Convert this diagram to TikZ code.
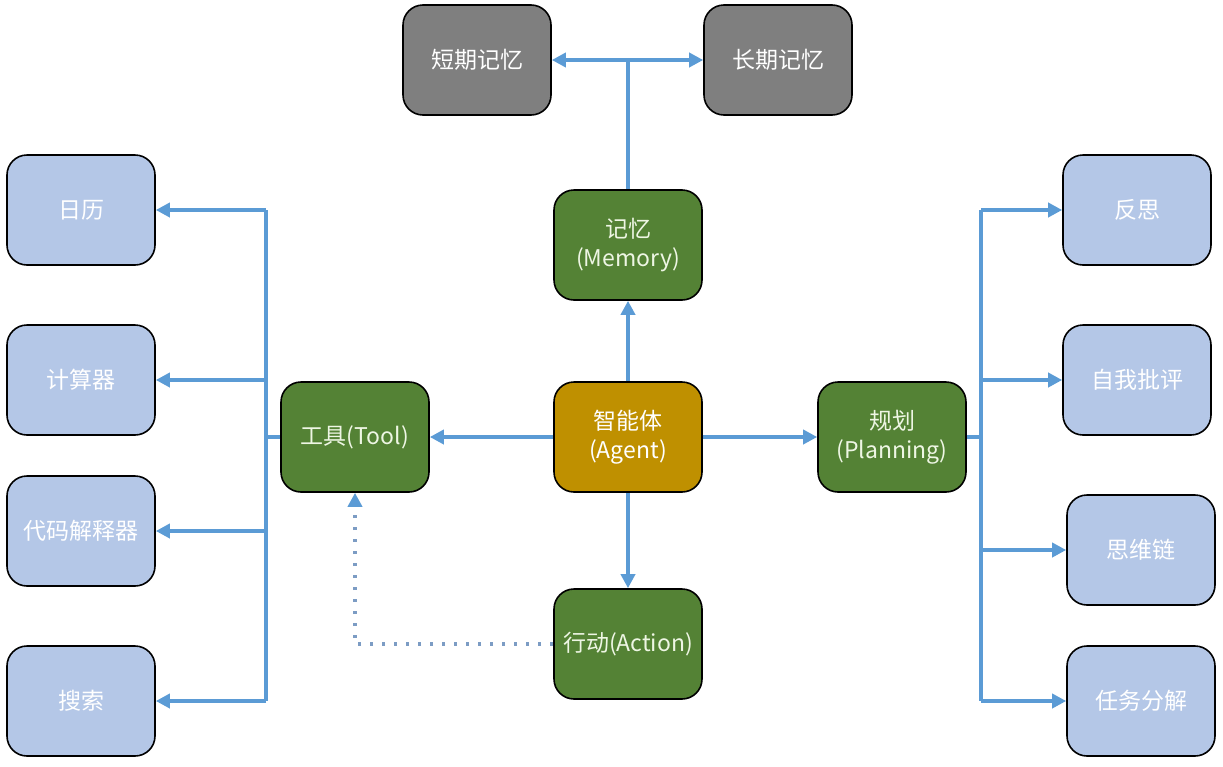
\documentclass[tikz,border=0pt]{standalone}
\usepackage{fontspec}
\setmainfont{Noto Sans CJK SC}
\usepackage{tikz}
\usetikzlibrary{positioning, calc, arrows.meta}

\definecolor{linkblue}{HTML}{5B9BD5}
\definecolor{dotblue}{HTML}{7C9CC4}
\definecolor{memgray}{HTML}{7F7F7F}
\definecolor{coregreen}{HTML}{548235}
\definecolor{agentgold}{HTML}{BF9000}
\definecolor{leafblue}{HTML}{B4C7E7}
\definecolor{paletext}{HTML}{EEF6E4}

\begin{document}
\begin{tikzpicture}[
        x=1pt, y=-1pt,
        % Style for all boxes (rounded rectangles)
        box/.style={
            rectangle, rounded corners=20pt, draw=black, line width=1.6pt,
            minimum width=148pt, minimum height=110pt, align=center,
            font=\fontsize{23pt}{29pt}\selectfont, text=white
        },
        membox/.style={box, fill=memgray},
        corebox/.style={box, fill=coregreen, text=paletext},
        agentbox/.style={box, fill=agentgold},
        leafbox/.style={box, fill=leafblue},
        % Style for connectors
        link/.style={draw=linkblue, line width=3.5pt},
        arrow/.style={link, -{Triangle[length=14pt, width=14pt]}},
        dotlink/.style={draw=dotblue, line width=3.5pt, dash pattern=on 3.5pt off 8.5pt,
            -{Triangle[length=14pt, width=14pt, color=linkblue]}}
    ]

        \useasboundingbox (0,0) rectangle (1223,766);

        % 1. Centre of the agent
        \node[agentbox] (agent)  at (628, 437) {智能体\\(Agent)};
        \node[corebox]  (memory) at (628, 245) {记忆\\(Memory)};
        \node[corebox]  (tool)   at (355, 437) {工具(Tool)};
        \node[corebox]  (plan)   at (892, 437) {规划\\(Planning)};
        \node[corebox]  (action) at (628, 644) {行动(Action)};

        % 2. Memory kinds
        \node[membox] (short) at (477, 60) {短期记忆};
        \node[membox] (long)  at (778, 60) {长期记忆};

        % 3. Tools
        \node[leafbox] (calendar) at (81, 210) {日历};
        \node[leafbox] (calc)     at (81, 380) {计算器};
        \node[leafbox] (interp)   at (81, 531) {代码解释器};
        \node[leafbox] (search)   at (81, 701) {搜索};

        % 4. Planning steps
        \node[leafbox] (reflect)  at (1137, 210) {反思};
        \node[leafbox] (critic)   at (1137, 380) {自我批评};
        \node[leafbox] (cot)      at (1141, 550) {思维链};
        \node[leafbox] (decomp)   at (1141, 701) {任务分解};

        % 5. Agent to its parts
        \draw[arrow] (agent) -- (memory);
        \draw[arrow] (agent) -- (tool);
        \draw[arrow] (agent) -- (plan);
        \draw[arrow] (agent) -- (action);

        % 6. Memory split
        \coordinate (membus) at (memory.north |- short.east);
        \draw[link] (memory.north) -- (membus);
        \draw[arrow] (membus) -- (short.east);
        \draw[arrow] (membus) -- (long.west);

        % 7. Tool bus (left)
        \coordinate (toolbus) at (266, 437);
        \draw[link] (tool.west) -- (toolbus);
        \draw[link] (toolbus |- calendar.east) -- (toolbus |- search.east);
        \foreach \leaf in {calendar, calc, interp, search}
            \draw[arrow] (toolbus |- \leaf.east) -- (\leaf.east);

        % 8. Planning bus (right)
        \coordinate (planbus) at (981, 437);
        \draw[link] (plan.east) -- (planbus);
        \draw[link] (planbus |- reflect.west) -- (planbus |- decomp.west);
        \foreach \leaf in {reflect, critic, cot, decomp}
            \draw[arrow] (planbus |- \leaf.west) -- (\leaf.west);

        % 9. Action feeds back into the tools
        \coordinate (bend) at (tool.south |- action.west);
        \draw[dotlink] (action.west) -- (bend) -- (tool.south);

    \end{tikzpicture}
\end{document}
